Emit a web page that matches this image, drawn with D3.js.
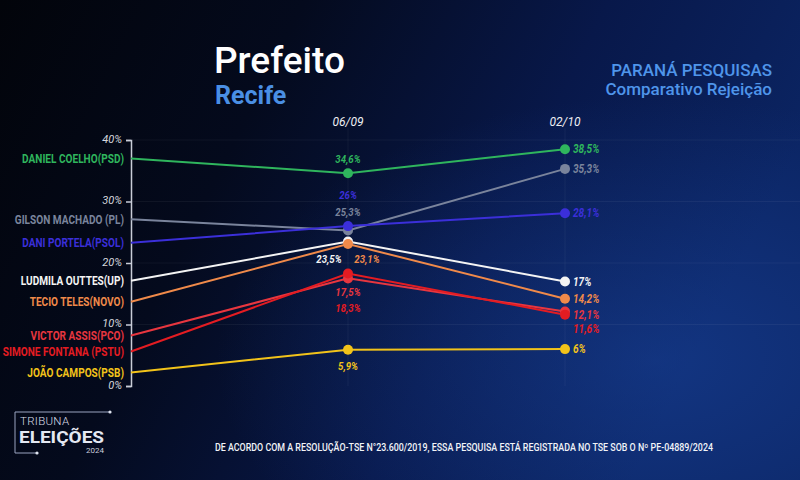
<!DOCTYPE html>
<html>
<head>
<meta charset="utf-8">
<script src="https://cdn.jsdelivr.net/npm/d3@7"></script>
<style>
  body { margin: 0; background: #02040b; }
  svg { display: block; }
</style>
</head>
<body>
<div id="chart"></div>
<script>
// page set up
const FRAME_WIDTH = 800;
const FRAME_HEIGHT = 480;
const PLOT = {left: 131, right: 565, top: 140, bottom: 386};

// data
const PERIODS = ["", "06/09", "02/10"];
const CANDIDATES = ["DANIEL COELHO(PSD)", "GILSON MACHADO (PL)", "DANI PORTELA(PSOL)",
  "LUDMILA OUTTES(UP)", "TECIO TELES(NOVO)", "VICTOR ASSIS(PCO)",
  "SIMONE FONTANA (PSTU)", "JOÃO CAMPOS(PSB)"];
const FIRST_POLL = [37.0, 27.1, 23.3, 17.1, 13.7, 8.2, 5.6, 2.2];
const SEP_06 = [34.6, 25.3, 26, 23.5, 23.1, 17.5, 18.3, 5.9];
const OCT_02 = [38.5, 35.3, 28.1, 17, 14.2, 12.1, 11.6, 6];
const Y_TICKS = [0, 10, 20, 30, 40];

// styles
const COLORS = ["#2fb55d", "#7a849c", "#3b2fd9", "#f4f4f4", "#f08a4a", "#e8363f", "#e41c22", "#f2c31a"];
// label offsets from the point (dx, dy)
const MID_LABEL_DX = [0, 0, 0, -19, 19, 0, 0, 0];
const MID_LABEL_DY = [-14, -18, -31, 17, 15, 14, 35, 16];
const RIGHT_LABEL_DY = [0, 0, 0, 0, 0, 3, 14, 0];

const fmt = (v) => String(v).replace(".", ",") + "%";

const SVG = d3.select("#chart")
  .append("svg")
  .attr("width", FRAME_WIDTH)
  .attr("height", FRAME_HEIGHT);

// background
const defs = SVG.append("defs");
const lin = defs.append("linearGradient").attr("id", "bg").attr("x1", 0).attr("x2", 1).attr("y1", 0).attr("y2", 0.3);
lin.append("stop").attr("offset", "0%").attr("stop-color", "#02040a");
lin.append("stop").attr("offset", "35%").attr("stop-color", "#040a1d");
lin.append("stop").attr("offset", "70%").attr("stop-color", "#08184a");
lin.append("stop").attr("offset", "100%").attr("stop-color", "#0b2462");
const rad = defs.append("radialGradient").attr("id", "glow").attr("cx", "82%").attr("cy", "75%").attr("r", "55%");
rad.append("stop").attr("offset", "0%").attr("stop-color", "#1c4aa8").attr("stop-opacity", 0.45);
rad.append("stop").attr("offset", "100%").attr("stop-color", "#1c4aa8").attr("stop-opacity", 0);

SVG.append("rect").attr("width", FRAME_WIDTH).attr("height", FRAME_HEIGHT).attr("fill", "url(#bg)");
SVG.append("rect").attr("width", FRAME_WIDTH).attr("height", FRAME_HEIGHT).attr("fill", "url(#glow)");

// scales
const X_SCALE = d3.scaleLinear().domain([0, PERIODS.length - 1]).range([PLOT.left, PLOT.right]);
const Y_SCALE = d3.scaleLinear().domain([0, 40]).range([PLOT.bottom, PLOT.top]);

// faint grid
SVG.append("g").selectAll("line")
  .data(Y_TICKS.slice(1))
  .enter().append("line")
  .attr("x1", PLOT.left).attr("x2", FRAME_WIDTH)
  .attr("y1", (d) => Y_SCALE(d)).attr("y2", (d) => Y_SCALE(d))
  .attr("stroke", "#ffffff").attr("stroke-opacity", 0.05);

SVG.append("g").selectAll("line")
  .data([1, 2])
  .enter().append("line")
  .attr("x1", (d) => X_SCALE(d)).attr("x2", (d) => X_SCALE(d))
  .attr("y1", 128).attr("y2", PLOT.bottom)
  .attr("stroke", "#ffffff").attr("stroke-opacity", 0.05);

// y axis
const yAxis = SVG.append("g")
  .attr("transform", "translate(" + PLOT.left + ",0)")
  .call(d3.axisLeft(Y_SCALE).tickValues(Y_TICKS).tickFormat((d) => d + "%").tickSize(5).tickPadding(4));
yAxis.select(".domain").attr("stroke", "#c9cdd8").attr("stroke-width", 1.5);
yAxis.selectAll(".tick line").attr("stroke", "#c9cdd8").attr("stroke-width", 1.5);
yAxis.selectAll(".tick text")
  .attr("fill", "#d6d8de")
  .attr("font-family", "Roboto, sans-serif")
  .attr("font-style", "italic")
  .attr("font-size", "11px")
  .attr("dy", "0.2em");

// period labels
SVG.selectAll(".period")
  .data(PERIODS)
  .enter().append("text")
  .attr("class", "period")
  .attr("x", (d, i) => X_SCALE(i))
  .attr("y", 126)
  .attr("text-anchor", "middle")
  .attr("fill", "#eef0f4")
  .attr("font-family", "Roboto, sans-serif")
  .attr("font-style", "italic")
  .attr("font-size", "12px")
  .text((d) => d);

// series table
const SERIES = CANDIDATES.map((name, i) => ({
  name: name,
  color: COLORS[i],
  values: [FIRST_POLL[i], SEP_06[i], OCT_02[i]]
}));

const line = d3.line().x((d, i) => X_SCALE(i)).y((d) => Y_SCALE(d));

SVG.append("g").selectAll("path")
  .data(SERIES)
  .enter().append("path")
  .attr("d", (d) => line(d.values))
  .attr("fill", "none")
  .attr("stroke", (d) => d.color)
  .attr("stroke-width", 2);

// points at 06/09 and 02/10
SERIES.forEach((s) => {
  SVG.append("g").selectAll("circle")
    .data([1, 2])
    .enter().append("circle")
    .attr("cx", (k) => X_SCALE(k))
    .attr("cy", (k) => Y_SCALE(s.values[k]))
    .attr("r", 5)
    .attr("fill", s.color);
});

// condensed text helper
function condText(g, x, y, str, color, anchor, italic, size) {
  const t = g.append("g").attr("transform", "translate(" + x + "," + y + ") scale(0.84,1)");
  t.append("text")
    .attr("text-anchor", anchor)
    .attr("dy", "0.35em")
    .attr("fill", color)
    .attr("font-family", "Roboto, sans-serif")
    .attr("font-weight", "bold")
    .attr("font-style", italic ? "italic" : "normal")
    .attr("font-size", size + "px")
    .text(str);
}

const LABELS = SVG.append("g");
SERIES.forEach((s, i) => {
  // candidate names at the axis
  condText(LABELS, PLOT.left - 7, Y_SCALE(s.values[0]), s.name, s.color, "end", false, 12);
  // 06/09 values
  condText(LABELS, X_SCALE(1) + MID_LABEL_DX[i], Y_SCALE(s.values[1]) + MID_LABEL_DY[i],
    fmt(s.values[1]), s.color, "middle", true, 11.5);
  // 02/10 values
  condText(LABELS, X_SCALE(2) + 8, Y_SCALE(s.values[2]) + RIGHT_LABEL_DY[i],
    fmt(s.values[2]), s.color, "start", true, 12);
});

// titles
SVG.append("text").attr("x", 214).attr("y", 73)
  .attr("fill", "#ffffff").attr("font-family", "Roboto, sans-serif")
  .attr("font-weight", 500).attr("font-size", "37px").text("Prefeito");
SVG.append("text").attr("x", 215).attr("y", 104)
  .attr("fill", "#4a8fe4").attr("font-family", "Roboto, sans-serif")
  .attr("font-weight", "bold").attr("font-size", "25px").text("Recife");

SVG.append("text").attr("x", 772).attr("y", 76).attr("text-anchor", "end")
  .attr("fill", "#4f95ea").attr("font-family", "Roboto, sans-serif")
  .attr("font-weight", 500).attr("font-size", "17px").text("PARANÁ PESQUISAS");
SVG.append("text").attr("x", 772).attr("y", 95).attr("text-anchor", "end")
  .attr("fill", "#4f95ea").attr("font-family", "Roboto, sans-serif")
  .attr("font-weight", 500).attr("font-size", "17px").text("Comparativo Rejeição");

// footer
SVG.append("text").attr("x", 215).attr("y", 451)
  .attr("fill", "#f2f4f8").attr("font-family", "Roboto, sans-serif")
  .attr("font-weight", 500).attr("font-size", "10px")
  .attr("textLength", 498).attr("lengthAdjust", "spacingAndGlyphs")
  .text("DE ACORDO COM A RESOLUÇÃO-TSE N°23.600/2019, ESSA PESQUISA ESTÁ REGISTRADA NO TSE SOB O Nº PE-04889/2024");

// logo
const LOGO = SVG.append("g");
LOGO.append("path").attr("d", "M110,412 H15 V453 H37")
  .attr("fill", "none").attr("stroke", "#9aa4c0").attr("stroke-width", 1);
LOGO.append("circle").attr("cx", 110).attr("cy", 412).attr("r", 1.6).attr("fill", "#dfe4f0");
LOGO.append("circle").attr("cx", 37).attr("cy", 453).attr("r", 1.6).attr("fill", "#dfe4f0");
LOGO.append("text").attr("x", 20).attr("y", 425)
  .attr("fill", "#d8dce6").attr("font-family", "Roboto, sans-serif")
  .attr("font-weight", 300).attr("font-size", "11.5px").attr("letter-spacing", "0.3px").text("TRIBUNA");
LOGO.append("text").attr("x", 19).attr("y", 443)
  .attr("fill", "#e4e8f2").attr("font-family", "Roboto, sans-serif")
  .attr("font-weight", "bold").attr("font-size", "16px")
  .attr("textLength", 85).attr("lengthAdjust", "spacingAndGlyphs").text("ELEIÇÕES");
LOGO.append("text").attr("x", 104).attr("y", 453).attr("text-anchor", "end")
  .attr("fill", "#c9cedb").attr("font-family", "Roboto, sans-serif")
  .attr("font-size", "8px").text("2024");
</script>
</body>
</html>
